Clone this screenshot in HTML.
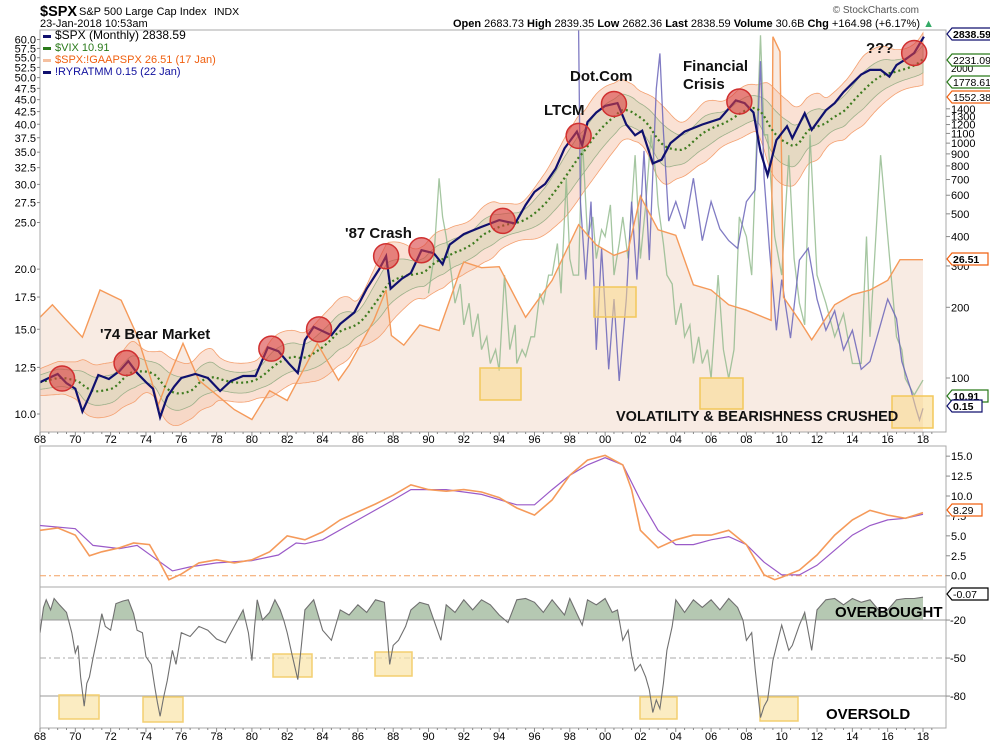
<!DOCTYPE html>
<html><head><meta charset="utf-8">
<style>
body{margin:0;background:#fff;font-family:"Liberation Sans",sans-serif;}
svg{display:block}
text{font-family:"Liberation Sans",sans-serif;}
</style></head>
<body>
<svg id="chart" width="990" height="744" viewBox="0 0 990 744" xmlns="http://www.w3.org/2000/svg">
<defs>
<clipPath id="mainClip"><rect x="40" y="30" width="906" height="402"/></clipPath>
<clipPath id="midClip"><rect x="40" y="446" width="906" height="141"/></clipPath>
<clipPath id="botClip"><rect x="40" y="587" width="906" height="141"/></clipPath>
<clipPath id="obClip"><rect id="obRect" x="40" y="587" width="906" height="33"/></clipPath>
</defs>
<text x="40" y="16" font-size="14.5" font-weight="bold">$SPX</text>
<text x="79" y="15" font-size="11">S&amp;P 500 Large Cap Index</text>
<text x="214" y="15" font-size="10.5">INDX</text>
<text x="40" y="27" font-size="11">23-Jan-2018 10:53am</text>
<text x="919" y="13" font-size="10" fill="#555" text-anchor="end">© StockCharts.com</text>
<text x="453" y="27" font-size="11"><tspan font-weight="bold">Open</tspan> 2683.73 <tspan font-weight="bold">High</tspan> 2839.35 <tspan font-weight="bold">Low</tspan> 2682.36 <tspan font-weight="bold">Last</tspan> 2838.59 <tspan font-weight="bold">Volume</tspan> 30.6B <tspan font-weight="bold">Chg</tspan> +164.98 (+6.17%) <tspan fill="#3a6">▲</tspan></text>
<g id="g"></g>
</svg>
<script>
// ---------- data ----------
const spxYears=[1968,1968.5,1969,1969.5,1970,1970.4,1970.9,1971.3,1971.9,1972.5,1973,1973.5,1974,1974.4,1974.8,1975.2,1975.6,1976,1976.8,1977.5,1978.2,1978.8,1979.5,1980.2,1980.9,1981.5,1982.1,1982.6,1983,1983.5,1984.5,1985,1985.8,1986.5,1987.2,1987.6,1987.85,1988.5,1989,1989.6,1990.3,1990.8,1991.2,1992,1993,1994,1994.9,1995.5,1996,1996.6,1997.2,1997.7,1998.4,1998.7,1999,1999.5,2000,2000.7,2001.2,2001.7,2002.1,2002.7,2003.2,2003.7,2004.5,2005.5,2006.5,2007.4,2007.9,2008.4,2008.8,2009.2,2009.7,2010.3,2010.6,2011.3,2011.7,2012.5,2013,2013.5,2014,2014.5,2015,2015.6,2016.1,2016.5,2017,2017.5,2018.05];
const spxVals=[96,100,104,95,90,72,87,103,99,107,118,105,96,90,68,83,92,100,104,100,88,97,102,102,135,130,115,105,145,165,152,170,190,240,290,330,240,265,280,350,340,305,370,410,440,470,455,545,620,670,780,950,1120,980,1230,1350,1440,1480,1200,1080,1130,820,850,1000,1120,1200,1270,1520,1480,1350,920,730,1030,1180,1050,1340,1140,1380,1480,1650,1800,1960,2050,2050,1920,2150,2270,2420,2838];
const peYears=[1968,1968.7,1969.5,1970.4,1971.4,1972.6,1973.5,1974.3,1974.7,1975.3,1976.1,1977,1978,1979,1980,1981,1982,1983.7,1984.9,1985.5,1986.9,1987.6,1987.9,1988.6,1989.5,1990.6,1991.8,1992,1993,1994,1995.5,1997,1998.5,1999.5,2000.5,2001.3,2002,2003,2004,2005,2006,2007,2008,2009.4,2009.5,2009.9,2010.1,2011,2011.7,2013,2014,2015,2016,2016.7,2018];
const peVals=[16.4,18.2,16,13.9,20.6,18.9,14.1,9.7,7.9,10,13.2,9.7,8.6,7.6,7.0,8.9,8.2,13.2,9.7,11,16,20.6,14.1,13,15.4,14.7,24.3,26,24.8,25,16.4,22.3,35.5,30,27.5,28.7,45,34,32.5,21.5,20.6,18.2,17.4,16,170,150,19.4,16,13.6,18.2,19.8,20.6,22.3,26.5,26.5];
const vixYears=[1990,1990.3,1990.6,1990.8,1991,1991.3,1991.5,1991.8,1992,1992.3,1992.5,1992.8,1993,1993.3,1993.5,1993.8,1994,1994.3,1994.6,1994.9,1995,1995.3,1995.5,1995.8,1996,1996.3,1996.5,1996.8,1997,1997.3,1997.5,1997.8,1998,1998.2,1998.5,1998.7,1999,1999.3,1999.5,1999.8,2000,2000.3,2000.5,2000.8,2001,2001.3,2001.7,2002,2002.3,2002.6,2002.9,2003,2003.3,2003.5,2003.8,2004,2004.3,2004.5,2004.8,2005,2005.3,2005.5,2005.8,2006,2006.4,2006.7,2007,2007.3,2007.6,2008,2008.3,2008.8,2009,2009.2,2009.6,2010,2010.4,2010.7,2011,2011.3,2011.6,2012,2012.5,2013,2013.5,2014,2014.5,2014.8,2015,2015.6,2016,2016.5,2016.8,2017,2017.5,2018];
const vixVals=[18,22,35,28,25,20,17,19,15,17,14,16,13,14,12,13,11.5,20,13,15,12,13,12.5,14,14,18,17,20,20,24,18,35,22,20,20,45,25,28,22,26,25,30,20,24,28,22,40,22,30,45,35,30,24,20,19,15,17,14,15,12,14,12,13,11,20,13,11,13,28,25,20,80,45,45,25,20,40,22,17,15,45,20,17,14,16,12,12,25,14,40,25,14,13,11,10,10.9];
const ryYears=[1998.5,1998.6,1998.9,1999.2,1999.5,1999.8,2000.2,2000.5,2000.8,2001.2,2001.5,2001.8,2002.2,2002.5,2002.9,2003.1,2003.3,2003.6,2004,2004.5,2005,2005.5,2006,2006.5,2007,2007.5,2008,2008.5,2008.8,2009,2009.3,2009.7,2010,2010.5,2011,2011.5,2012,2012.5,2013,2013.5,2014,2014.5,2015,2015.5,2016,2016.5,2016.8,2017.3,2017.6,2017.8,2018];
const ryVals=[100,56,36,56,18,44,13,31,10,31,56,36,69,41,85,94,74,51,56,49,62,46,56,49,46,44,56,59,92,62,44,23,36,21,41,44,31,23,28,18,23,13,15,23,31,26,15,8,3,0,3];
const midYearsA=[1968,1969,1970,1970.8,1971.5,1972.5,1973.3,1974.2,1974.7,1975.3,1976,1977,1978,1979,1980,1981,1982,1983,1984,1985,1986,1987,1988,1989,1990,1991,1992,1993,1994,1995,1996,1997,1998,1999,2000,2001,2001.5,2002,2003,2004,2005,2006,2007,2008,2009,2009.6,2010,2011,2012,2013,2014,2015,2016,2017,2018];
const midValsA=[5.7,6.0,5.1,2.5,3.0,3.5,4.1,3.9,2.0,-0.5,0.2,1.6,2.0,1.6,2.0,3.0,5.0,4.5,5.5,7,8,9,10.1,11.4,10.8,10.6,10.8,10.5,9.8,8.5,7.6,9.5,12.6,14.5,15.1,13.9,10.8,5.7,3.5,4.5,5.1,5.1,5.7,3.9,0.1,-0.5,-0.2,0.7,2.6,5.1,7.0,8.2,7.6,7.2,7.9];
const midYearsB=[1968,1970,1971,1972.5,1973.5,1974.5,1975.5,1976.5,1978,1980,1981.5,1982.5,1983,1984,1986,1988,1989,1991,1993,1995,1996,1997,1998,1999,2000,2001,2002,2003,2004,2005,2006,2007,2008,2009,2010,2011,2012,2013,2014,2015,2016,2017,2018];
const midValsB=[6.3,5.9,3.8,3.4,3.8,2.2,0.6,1.1,1.6,1.9,2.6,4.1,4.0,4.5,7.0,9.5,10.8,10.8,10.2,8.9,8.9,10.8,12.6,13.9,14.8,13.9,9.5,5.7,3.9,3.9,4.5,4.9,3.9,1.7,0.1,0.1,1.3,3.2,5.1,6.3,7.0,7.2,7.7];
const oscYears=[1968,1968.2,1968.35,1968.6,1968.8,1969.1,1969.5,1969.8,1970,1970.15,1970.3,1970.5,1970.65,1970.8,1971,1971.3,1971.5,1971.7,1972,1972.3,1972.7,1973,1973.3,1973.5,1973.8,1974,1974.3,1974.5,1974.65,1974.8,1975,1975.2,1975.5,1975.7,1976,1976.5,1977,1977.5,1978,1978.5,1979,1979.5,1979.8,1980,1980.15,1980.3,1980.6,1981,1981.3,1981.6,1981.8,1982,1982.3,1982.6,1982.8,1983,1983.5,1984,1984.5,1985,1985.5,1986,1986.5,1987,1987.5,1987.8,1988,1988.3,1988.7,1989,1989.5,1990,1990.7,1991,1991.5,1992,1992.5,1993,1993.5,1994,1994.5,1995,1995.5,1996,1996.5,1997,1997.7,1998,1998.7,1999,1999.5,2000,2000.4,2000.7,2001,2001.3,2001.5,2001.7,2002,2002.3,2002.5,2002.7,2002.9,2003.1,2003.3,2003.5,2003.8,2004,2004.5,2005,2005.5,2006,2006.5,2007,2007.5,2007.8,2008,2008.3,2008.5,2008.8,2009,2009.2,2009.5,2009.8,2010,2010.4,2010.6,2011,2011.3,2011.7,2012,2012.5,2013,2013.5,2014,2014.5,2015,2015.6,2016,2016.5,2017,2017.5,2018];
const oscVals=[-30,-10,-4,-12,-3,-8,-14,-30,-46,-40,-65,-88,-70,-65,-50,-30,-15,-25,-28,-7,-5,-4,-15,-28,-30,-49,-55,-73,-85,-96,-81,-68,-44,-55,-30,-33,-25,-28,-35,-38,-25,-12,-30,-52,-25,-4,-20,-14,-4,-12,-20,-30,-49,-67,-40,-12,-4,-28,-36,-12,-16,-8,-14,-4,-6,-55,-40,-36,-25,-12,-6,-8,-36,-8,-14,-4,-12,-4,-8,-16,-22,-4,-3,-6,-14,-4,-16,-3,-24,-4,-8,-3,-14,-12,-36,-28,-48,-60,-55,-65,-75,-93,-83,-90,-70,-44,-25,-4,-14,-4,-10,-4,-12,-3,-10,-20,-36,-30,-59,-97,-88,-83,-52,-35,-24,-44,-40,-24,-14,-44,-12,-4,-3,-8,-3,-6,-4,-14,-12,-4,-3,-3,-2];
const xTickLabels=['68','70','72','74','76','78','80','82','84','86','88','90','92','94','96','98','00','02','04','06','08','10','12','14','16','18'];
const leftTicks=[60,57.5,55,52.5,50,47.5,45,42.5,40,37.5,35,32.5,30,27.5,25,20,17.5,15,12.5,10];
const rightTicks=[100,200,300,400,500,600,700,800,900,1000,1100,1200,1300,1400];
const midTicks=[15,12.5,10,7.5,5,2.5,0];
const oscTicks=[-20,-50,-80];
const circleYears=[1969.25,1972.9,1981.1,1983.8,1987.6,1989.6,1994.2,1998.5,2000.5,2007.6,2017.5];
const annotations=[["'74 Bear Market",100,339],["'87 Crash",345,238],["LTCM",544,115],["Dot.Com",570,81],["Financial",683,71],["Crisis",683,89],["???",866,53]];

// ---------- scales ----------
const X=y=>40+(y-1968)*17.66;
const ySpx=v=>378-102*Math.log(v/100);
const yLeft=v=>414-209*Math.log(v/10);
const yPE=v=>653-120*Math.log(v);
const yVix=v=>395-173*Math.log(v/10);
const yRy=v=>420-3.9*v;
const yMid=v=>575.7-7.97*v;
const yOsc=v=>594.7+1.267*(-v);

const NS='http://www.w3.org/2000/svg';
const G=document.getElementById('g');
function mk(tag,attrs,parent){const e=document.createElementNS(NS,tag);for(const k in attrs)e.setAttribute(k,attrs[k]);(parent||G).appendChild(e);return e;}
function pts(xs,vs,yf){return xs.map((x,i)=>X(x).toFixed(1)+','+yf(vs[i]).toFixed(1)).join(' ');}
function interp(xs,vs,t){if(t<=xs[0])return vs[0];for(let i=1;i<xs.length;i++){if(t<=xs[i]){const f=(t-xs[i-1])/(xs[i]-xs[i-1]);return vs[i-1]+f*(vs[i]-vs[i-1]);}}return vs[vs.length-1];}

// ---------- main panel ----------
const main=mk('g',{'clip-path':'url(#mainClip)'});


let peP=pts(peYears,peVals,yPE);
const peArea=mk('polygon',{points:X(peYears[0])+',432 '+peP+' '+X(peYears[peYears.length-1])+',432',fill:'#f8ebe3'},main);


const logS=spxVals.map(v=>Math.log(v));
const grid=[];for(let t=1968;t<=2018.05;t+=1/12)grid.push(t);
const gl=grid.map(t=>interp(spxYears,logS,t));
const ma=[],sd=[];
grid.forEach((t,i)=>{const s=Math.max(0,i-24);const w=gl.slice(s,i+1);const m=w.reduce((a,b)=>a+b,0)/w.length;ma.push(m);
const s2=Math.max(0,i-36);const w2=gl.slice(s2,i+1);const m2=w2.reduce((a,b)=>a+b,0)/w2.length;sd.push(Math.sqrt(w2.reduce((a,b)=>a+(b-m2)*(b-m2),0)/w2.length));});
function band(k0,k1){const up=grid.map((t,i)=>X(t).toFixed(1)+','+ySpx(Math.exp(ma[i]+k0+k1*sd[i])).toFixed(1));const dn=grid.map((t,i)=>X(t).toFixed(1)+','+ySpx(Math.exp(ma[i]-k0-k1*sd[i])).toFixed(1)).reverse();return up.join(' ')+' '+dn.join(' ');}
const ob=mk('polygon',{points:band(0.13,1.25),fill:'#f5c9b0','fill-opacity':'0.55',stroke:'#f4a070','stroke-width':'0.8'},main);


const ib=mk('polygon',{points:band(0.07,0.65),fill:'#e2d8c0','fill-opacity':'0.9',stroke:'#9db08a','stroke-width':'0.8'},main);


const vx=mk('polyline',{points:pts(vixYears,vixVals,yVix),fill:'none',stroke:'#8fb88a','stroke-width':'1.3','stroke-opacity':'0.8'},main);


const ry=mk('polyline',{points:pts(ryYears,ryVals,yRy),fill:'none',stroke:'#6a64b8','stroke-width':'1.3','stroke-opacity':'0.85'},main);


const pl=mk('polyline',{points:peP,fill:'none',stroke:'#f59a5a','stroke-width':'1.4'},main);


const maL=mk('polyline',{points:grid.map((t,i)=>X(t).toFixed(1)+','+ySpx(Math.exp(ma[i])).toFixed(1)).join(' '),fill:'none',stroke:'#3d7a1e','stroke-width':'2.2','stroke-dasharray':'2 3'},main);


const sl=mk('polyline',{points:pts(spxYears,spxVals,ySpx),fill:'none',stroke:'#10106e','stroke-width':'2.2'},main);


[[480,368,41,32],[594,287,42,30],[700,378,43,31],[892,396,41,32]].forEach(b=>{const r=mk('rect',{x:b[0],y:b[1],width:b[2],height:b[3],fill:'#f9d98a','fill-opacity':'0.55',stroke:'#f3c85a','stroke-width':'1.5'},main);

});
circleYears.forEach(cy=>{const c=mk('circle',{cx:X(cy),cy:ySpx(interp(spxYears,spxVals,cy)),r:12.5,fill:'#d94040','fill-opacity':'0.6',stroke:'#d03030','stroke-width':'1.5'},main);

});
annotations.forEach(a=>{const t=mk('text',{x:a[1],y:a[2],'font-size':'15','font-weight':'bold',fill:'#111'});t.textContent=a[0];

});
const vt=mk('text',{x:616,y:421,'font-size':'14.5','font-weight':'bold',fill:'#111'});vt.textContent='VOLATILITY & BEARISHNESS CRUSHED';



[[40,30,906,402],[40,446,906,141],[40,587,906,141]].forEach(b=>{const r=mk('rect',{x:b[0],y:b[1],width:b[2],height:b[3],fill:'none',stroke:'#aaa','stroke-width':'1'});

});

const leg=[['$SPX (Monthly) 2838.59','#10106e','#000'],['$VIX 10.91','#2a7a1a','#2a7a1a'],['$SPX:!GAAPSPX 26.51 (17 Jan)','#f5c0a0','#f06010'],['!RYRATMM 0.15 (22 Jan)','#10106e','#10109e']];
leg.forEach((l,i)=>{const y=39+i*12;mk('rect',{x:43,y:y-4,width:8,height:3,fill:l[1]});const t=mk('text',{x:55,y:y,'font-size':i==0?'12':'11',fill:l[2]});t.textContent=l[0];

});

leftTicks.forEach(v=>{const y=yLeft(v);mk('line',{x1:37,x2:40,y1:y,y2:y,stroke:'#888'});const t=mk('text',{x:36,y:y+4,'font-size':'11','text-anchor':'end'});t.textContent=v.toFixed(1);

});
rightTicks.forEach(v=>{const y=ySpx(v);mk('line',{x1:946,x2:950,y1:y,y2:y,stroke:'#888'});const t=mk('text',{x:951,y:y+4,'font-size':'11'});t.textContent=v;

});
[['2000',72],['2500',64]].forEach(a=>{const t=mk('text',{x:951,y:a[1],'font-size':'10'});t.textContent=a[0];});
function tag(txt,y,col,bold){const g=mk('g',{});
const w=txt.length*6+6;
mk('polygon',{points:`947,${y} 952,${y-6} ${952+w},${y-6} ${952+w},${y+6} 952,${y+6}`,fill:'#fff',stroke:col,'stroke-width':'1.2'},g);
const t=mk('text',{x:953,y:y+4,'font-size':'10.5','font-weight':bold?'bold':'normal'},g);t.textContent=txt;}
tag('2838.59',34,'#10106e',true);tag('2231.09',60,'#2a7a1a',false);tag('1778.61',82,'#2a7a1a',false);tag('1552.38',97,'#f06010',false);
tag('26.51',259,'#f06010',true);tag('10.91',396,'#2a7a1a',true);tag('0.15',406,'#10106e',true);

function xAxis(y0,yl){for(let yr=1968;yr<=2018.5;yr+=0.5){const x=X(yr);mk('line',{x1:x,x2:x,y1:y0,y2:y0+(yr%2===0?4:2),stroke:'#888'});}
xTickLabels.forEach((s,i)=>{const t=mk('text',{x:X(1968+2*i),y:yl,'font-size':'11','text-anchor':'middle'});t.textContent=s;

});}
xAxis(432,443);xAxis(728,740);

// ---------- middle panel ----------
const mid=mk('g',{'clip-path':'url(#midClip)'});


mk('line',{x1:40,x2:946,y1:yMid(0),y2:yMid(0),stroke:'#f4a060','stroke-dasharray':'6 3 2 3'},mid);
const mb=mk('polyline',{points:pts(midYearsB,midValsB,yMid),fill:'none',stroke:'#9a5ac8','stroke-width':'1.2'},mid);


const ma2=mk('polyline',{points:pts(midYearsA,midValsA,yMid),fill:'none',stroke:'#f59a5a','stroke-width':'1.6'},mid);


midTicks.forEach(v=>{const y=yMid(v);mk('line',{x1:946,x2:950,y1:y,y2:y,stroke:'#888'});const t=mk('text',{x:951,y:y+4,'font-size':'11'});t.textContent=v.toFixed(1);

});
tag('8.29',510,'#f06010',false);

// ---------- bottom panel ----------
const bot=mk('g',{'clip-path':'url(#botClip)'});


document.getElementById('obRect').setAttribute('height',String(yOsc(-20)-587));
const op=pts(oscYears,oscVals,yOsc);
const of=mk('polygon',{points:X(oscYears[0])+','+yOsc(-20)+' '+op+' '+X(oscYears[oscYears.length-1])+','+yOsc(-20),fill:'#a8bea4','fill-opacity':'0.85','clip-path':'url(#obClip)'},bot);


mk('line',{x1:40,x2:946,y1:yOsc(-20),y2:yOsc(-20),stroke:'#999'},bot);
mk('line',{x1:40,x2:946,y1:yOsc(-80),y2:yOsc(-80),stroke:'#999'},bot);
mk('line',{x1:40,x2:946,y1:yOsc(-50),y2:yOsc(-50),stroke:'#aaa','stroke-dasharray':'6 3 2 3'},bot);
[[59,695,40,24],[143,697,40,25],[273,654,39,23],[375,652,37,24],[640,697,37,22],[760,697,38,24]].forEach(b=>{const r=mk('rect',{x:b[0],y:b[1],width:b[2],height:b[3],fill:'#f9e4a8','fill-opacity':'0.7',stroke:'#f3cf70','stroke-width':'1.5'},bot);

});
const ol=mk('polyline',{points:op,fill:'none',stroke:'#707070','stroke-width':'1.1'},bot);


const t1=mk('text',{x:835,y:617,'font-size':'15','font-weight':'bold'});t1.textContent='OVERBOUGHT';


const t2=mk('text',{x:826,y:719,'font-size':'15','font-weight':'bold'});t2.textContent='OVERSOLD';


oscTicks.forEach(v=>{const y=yOsc(v);mk('line',{x1:946,x2:950,y1:y,y2:y,stroke:'#888'});const t=mk('text',{x:950,y:y+4,'font-size':'11'});t.textContent=v;

});
tag('-0.07',594,'#000',false);
</script>
</body></html>
